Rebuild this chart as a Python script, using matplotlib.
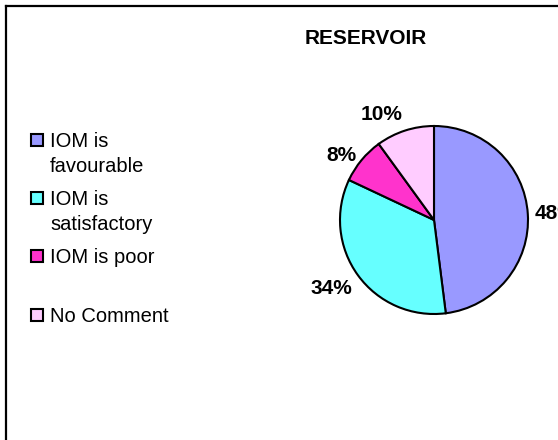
import matplotlib
matplotlib.use("Agg")
from matplotlib import pyplot as plt
from matplotlib.patches import Rectangle
from matplotlib.lines import Line2D

plt.rcParams['font.family'] = ['Liberation Sans', 'DejaVu Sans']

title = "RESERVOIR"
categories = ["IOM is\nfavourable", "IOM is\nsatisfactory", "IOM is poor", "No Comment"]
shares = [48, 34, 8, 10]
colors = ["#9999FF", "#66FFFF", "#FF33CC", "#FFCCFF"]

W, H = 558, 440
fig = plt.figure(figsize=(W / 100, H / 100), dpi=100)

# pie centre (434, 220) px, radius 94 px
cx, cy, r = 434, 220, 94
ax = fig.add_axes([(cx - r) / W, (H - cy - r) / H, 2 * r / W, 2 * r / H])
labels = ["%d%%" % s for s in shares]
wedges, texts = ax.pie(shares, colors=colors, labels=labels, startangle=90,
                       counterclock=False, labeldistance=1.07,
                       wedgeprops=dict(edgecolor="black", linewidth=1.5),
                       textprops=dict(fontsize=15, fontweight="bold"))
# labels far above / below the centre sit outside like Excel's
for t in texts:
    x, y = t.get_position()
    if y > 0.9:
        t.set_va("bottom")
    elif y < -0.55:
        t.set_va("top")
ax.set_xlim(-1, 1)
ax.set_ylim(-1, 1)
ax.set_aspect("equal")
ax.axis("off")

fig.text(366 / W, 1 - 39 / H, title, ha="center", va="center",
         fontsize=15, fontweight="bold")

# legend drawn by hand: square lines up with first text line
rows = [140, 198, 256, 315]
for lab, col, y in zip(categories, colors, rows):
    fig.patches.append(Rectangle((31 / W, 1 - (y + 6) / H), 12 / W, 12 / H,
                                 transform=fig.transFigure, facecolor=col,
                                 edgecolor="black", linewidth=1.5))
    fig.text(50 / W, 1 - (y - 8) / H, lab, ha="left", va="top",
             fontsize=14.5, linespacing=1.4)

# chart area border (top and left only visible)
fig.lines.append(Line2D([5.5 / W, 1], [1 - 6.5 / H, 1 - 6.5 / H],
                        transform=fig.transFigure, color="black", linewidth=1.6))
fig.lines.append(Line2D([5.5 / W, 5.5 / W], [0, 1 - 6.5 / H],
                        transform=fig.transFigure, color="black", linewidth=1.6))

fig.savefig("out.png", dpi=100)
